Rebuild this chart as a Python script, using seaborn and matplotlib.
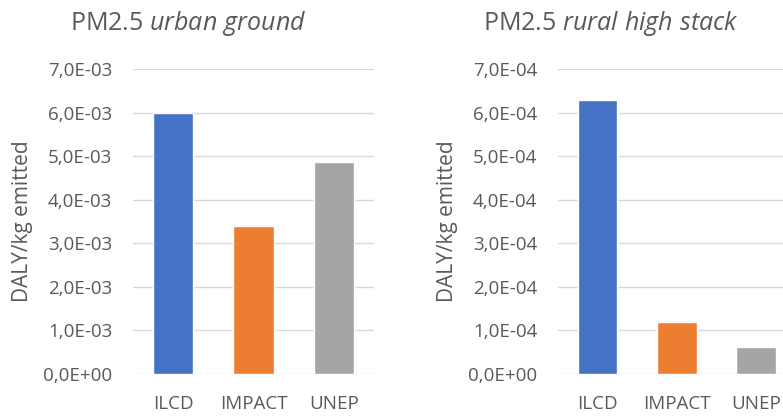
import matplotlib
matplotlib.use("Agg")
import matplotlib.pyplot as plt
import seaborn as sns
import pandas as pd

# -----------------------------
# Data
# -----------------------------
methods = ["ILCD", "IMPACT", "UNEP"]
urban_ground = [6.0e-3, 3.4e-3, 4.87e-3]
rural_high_stack = [6.3e-4, 1.2e-4, 6.2e-5]
urban_ticks = [0, 1e-3, 2e-3, 3e-3, 4e-3, 5e-3, 6e-3, 7e-3]
rural_ticks = [0, 1e-4, 2e-4, 3e-4, 4e-4, 5e-4, 6e-4, 7e-4]
colors = ["#4472C4", "#ED7D31", "#A5A5A5"]

sns.set_style("white")
plt.rcParams["font.family"] = ["Open Sans", "DejaVu Sans"]
plt.rcParams["mathtext.fontset"] = "custom"
plt.rcParams["mathtext.rm"] = "Open Sans"
plt.rcParams["mathtext.it"] = "Open Sans:italic"

txt = "#595959"
grid = "#D9D9D9"


def fmt(v, pos=None):
    return f"{v:.1E}".replace(".", ",")


def panel(ax, values, ticks, xmax):
    df = pd.DataFrame({"method": methods, "value": values})
    sns.barplot(data=df, x="method", y="value", hue="method", palette=colors,
                legend=False, width=0.5, saturation=1, ax=ax)
    ax.set_ylim(0, ticks[-1])
    ax.set_xlim(-0.5, xmax)
    ax.set_yticks(ticks)
    ax.yaxis.set_major_formatter(plt.FuncFormatter(fmt))
    ax.grid(axis="y", color=grid, linewidth=1)
    ax.set_axisbelow(True)
    for s in ax.spines.values():
        s.set_visible(False)
    ax.tick_params(axis="both", length=0, colors=txt, labelsize=13.5)
    ax.tick_params(axis="x", pad=15)
    ax.tick_params(axis="y", pad=15)
    ax.set_xlabel("")
    ax.set_ylabel("DALY/kg emitted", color=txt, fontsize=15, labelpad=7)


fig = plt.figure(figsize=(7.83, 4.16), dpi=100)
ax1 = fig.add_axes([0.1699, 0.101, 0.3078, 0.733])
ax2 = fig.add_axes([0.7127, 0.101, 0.2873, 0.733])

panel(ax1, urban_ground, urban_ticks, 2.5)
panel(ax2, rural_high_stack, rural_ticks, 2.34)

# chart titles, centred on each chart area
fig.text(188 / 783, 1 - 24 / 416, r"PM2.5 $\mathit{urban\ ground}$",
         color=txt, fontsize=18, ha="center", va="center")
fig.text(611 / 783, 1 - 24 / 416, r"PM2.5 $\mathit{rural\ high\ stack}$",
         color=txt, fontsize=18, ha="center", va="center")

fig.savefig("out.png", dpi=100)
